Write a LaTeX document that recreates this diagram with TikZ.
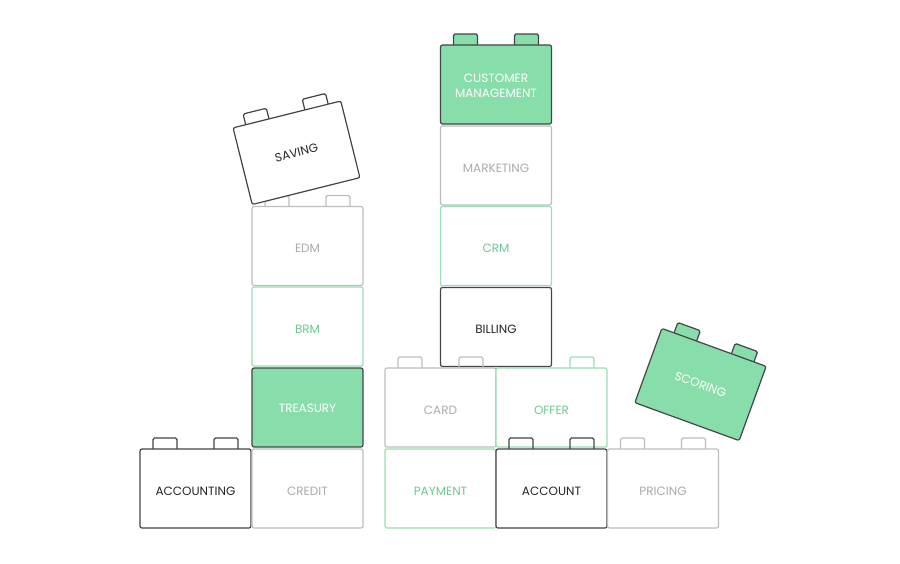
\documentclass[tikz,border=0pt]{standalone}
\usepackage{fontspec}
\setmainfont{Poppins}
\definecolor{gfill}{HTML}{88DEAA}
\definecolor{gline}{HTML}{9BDDB6}
\definecolor{gtext}{HTML}{6CC993}
\definecolor{greyline}{HTML}{BDBDBD}
\definecolor{greytext}{HTML}{ABABAB}
\definecolor{darkline}{HTML}{444444}
\tikzset{
 box/.style={draw, rectangle, rounded corners=2pt, minimum width=111pt, minimum height=79pt, line width=1.2pt, fill=white, inner sep=0pt, align=center, font=\fontsize{12}{15}\selectfont, transform shape},
 darkbox/.style={box, draw=darkline, text=black!85},
 greybox/.style={box, draw=greyline, text=greytext},
 greenbox/.style={box, draw=gline, text=gtext},
 solidbox/.style={box, draw=darkline, fill=gfill, text=white},
 stud/.style={line width=1.2pt, rounded corners=1.5pt},
 lbl/.style={transform shape, inner sep=0pt, align=center, font=\fontsize{12}{15}\selectfont},
}
\newcommand\studL[1]{\draw[stud,#1] (-42.5,38) -- (-42.5,50.5) -- (-18.5,50.5) -- (-18.5,38);}
\newcommand\studR[1]{\draw[stud,#1] (18.5,38) -- (18.5,50.5) -- (42.5,50.5) -- (42.5,38);}
\begin{document}
\begin{tikzpicture}[x=1pt,y=1pt]
\useasboundingbox (0,0) rectangle (900,-563);
% right column
\begin{scope}[shift={(496,-84.5)}]
 \studL{draw=darkline,fill=gfill}\studR{draw=darkline,fill=gfill}
 \node[solidbox] (cust) at (0,0) {};
 \node[lbl,text=white] (custt) at (0,-1) {CUSTOMER\\MANAGEMENT};
\end{scope}
\node[greybox] (mkt) at (496,-165.5) {};
\node[lbl,text=greytext] (mktt) at (496,-168) {MARKETING};
\node[greenbox] (crm) at (496,-246) {};
\node[lbl,text=gtext] (crmt) at (496,-248.5) {CRM};
\node[darkbox] (bill) at (496,-327) {};
\node[lbl,text=black!85] (billt) at (496,-329.5) {BILLING};
\begin{scope}[shift={(440.5,-407.5)}]
 \studL{draw=greyline}\studR{draw=greyline}
 \node[greybox] (card) at (0,0) {};
 \node[lbl,text=greytext] (cardt) at (0,-2.5) {CARD};
\end{scope}
\begin{scope}[shift={(551.5,-407.5)}]
 \studR{draw=gline}
 \node[greenbox] (offer) at (0,0) {};
 \node[lbl,text=gtext] (offert) at (0,-2.5) {OFFER};
\end{scope}
% left column
\begin{scope}[shift={(307.5,-246)}]
 \studL{draw=greyline}\studR{draw=greyline}
 \node[greybox] (edm) at (0,0) {};
 \node[lbl,text=greytext] (edmt) at (0,-2.5) {EDM};
\end{scope}
\node[greenbox] (brm) at (307.5,-326.5) {};
\node[lbl,text=gtext] (brmt) at (307.5,-329) {BRM};
\node[solidbox] (treas) at (307.5,-407.5) {};
\node[lbl,text=white] (treast) at (307.5,-408) {TREASURY};
\begin{scope}[shift={(195.5,-488.5)}]
 \studL{draw=darkline}\studR{draw=darkline}
 \node[darkbox] (acctg) at (0,0) {};
 \node[lbl,text=black!85] (acctgt) at (0,-2.5) {ACCOUNTING};
\end{scope}
\node[greybox] (credit) at (307.5,-488.5) {};
\node[lbl,text=greytext] (creditt) at (307.5,-491) {CREDIT};
% bottom right row
\node[greenbox] (pay) at (440.5,-488.5) {};
\node[lbl,text=gtext] (payt) at (440.5,-491) {PAYMENT};
\begin{scope}[shift={(551.5,-488.5)}]
 \studL{draw=darkline}\studR{draw=darkline}
 \node[darkbox] (acct) at (0,0) {};
 \node[lbl,text=black!85] (acctt) at (0,-2.5) {ACCOUNT};
\end{scope}
\begin{scope}[shift={(663,-488.5)}]
 \studL{draw=greyline}\studR{draw=greyline}
 \node[greybox] (price) at (0,0) {};
 \node[lbl,text=greytext] (pricet) at (0,-2.5) {PRICING};
\end{scope}
% tilted bricks
\begin{scope}[shift={(296.5,-152.75)},rotate=14]
 \studL{draw=darkline,fill=white}\studR{draw=darkline,fill=white}
 \node[darkbox] (saving) at (0,0) {};
 \node[lbl,text=black!85] (savingt) at (0,0) {SAVING};
\end{scope}
\begin{scope}[shift={(700.5,-384.5)},rotate=-20]
 \studL{draw=darkline,fill=gfill}\studR{draw=darkline,fill=gfill}
 \node[solidbox] (scoring) at (0,0) {};
 \node[lbl,text=white] (scoringt) at (0,0) {SCORING};
\end{scope}
\end{tikzpicture}
\end{document}
